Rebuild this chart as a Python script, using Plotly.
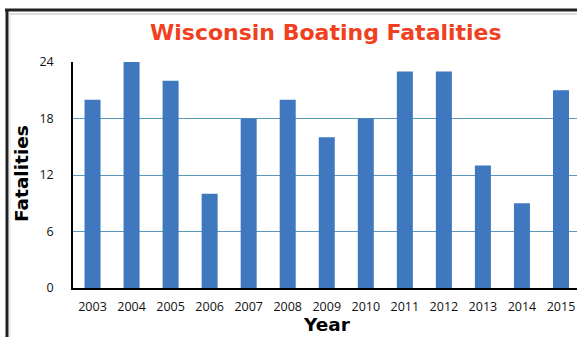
import plotly.graph_objects as go

years = ["2003", "2004", "2005", "2006", "2007", "2008", "2009",
         "2010", "2011", "2012", "2013", "2014", "2015"]
fatalities = [20, 24, 22, 10, 18, 20, 16, 18, 23, 23, 13, 9, 21]
y_ticks = [0, 6, 12, 18, 24]

W, H = 577, 337
L, R, T, B = 73, 0, 62, 49
PW, PH = W - L - R, H - T - B


def px(x):
    return (x - L) / PW


def py(y):
    return (H - B - y) / PH


fig = go.Figure()
fig.add_trace(go.Bar(
    x=list(range(len(years))), y=fatalities,
    marker=dict(color="#3F78BF", line=dict(width=0)),
    width=0.41,
))

fig.update_layout(
    width=W, height=H,
    margin=dict(l=L, r=R, t=T, b=B),
    paper_bgcolor="white", plot_bgcolor="white",
    showlegend=False,
    xaxis=dict(
        range=[-0.5, 12.41], tickmode="array",
        tickvals=list(range(len(years))), ticktext=years,
        showgrid=False, zeroline=False,
        showline=True, linecolor="black", linewidth=1.5,
        ticks="", ticklabelstandoff=6,
        tickfont=dict(family="Open Sans", size=12.5, color="#111"),
    ),
    yaxis=dict(
        range=[0, 24], tickmode="array", tickvals=y_ticks,
        showgrid=True, gridcolor="#5A97B8", gridwidth=1,
        zeroline=False,
        showline=True, linecolor="black", linewidth=1.5,
        ticks="", ticklabelstandoff=15,
        tickfont=dict(family="Open Sans", size=12.5, color="#111"),
    ),
    annotations=[
        dict(text="<b>Wisconsin Boating Fatalities</b>", x=px(326), y=py(33),
             xref="paper", yref="paper", showarrow=False,
             xanchor="center", yanchor="middle",
             font=dict(family="DejaVu Sans", size=22, color="#F0401E")),
        dict(text="<b>Fatalities</b>", x=px(21), y=py(174),
             xref="paper", yref="paper", showarrow=False, textangle=-90,
             xanchor="center", yanchor="middle",
             font=dict(family="DejaVu Sans", size=18.5, color="black")),
        dict(text="<b>Year</b>", x=px(327), y=py(337),
             xref="paper", yref="paper", showarrow=False,
             xanchor="center", yanchor="bottom",
             font=dict(family="DejaVu Sans", size=18.5, color="black")),
    ],
    shapes=[
        dict(type="line", xref="paper", yref="paper",
             x0=px(5), x1=px(580), y0=py(10), y1=py(10),
             line=dict(color="#222", width=3)),
        dict(type="line", xref="paper", yref="paper",
             x0=px(7), x1=px(7), y0=py(9), y1=py(340),
             line=dict(color="#222", width=3)),
        dict(type="line", xref="paper", yref="paper",
             x0=px(9), x1=px(580), y0=py(14), y1=py(14),
             line=dict(color="#BBBBBB", width=1)),
        dict(type="line", xref="paper", yref="paper",
             x0=px(10), x1=px(10), y0=py(14), y1=py(340),
             line=dict(color="#DDDDDD", width=1)),
    ],
)

fig.write_html("out.html")
